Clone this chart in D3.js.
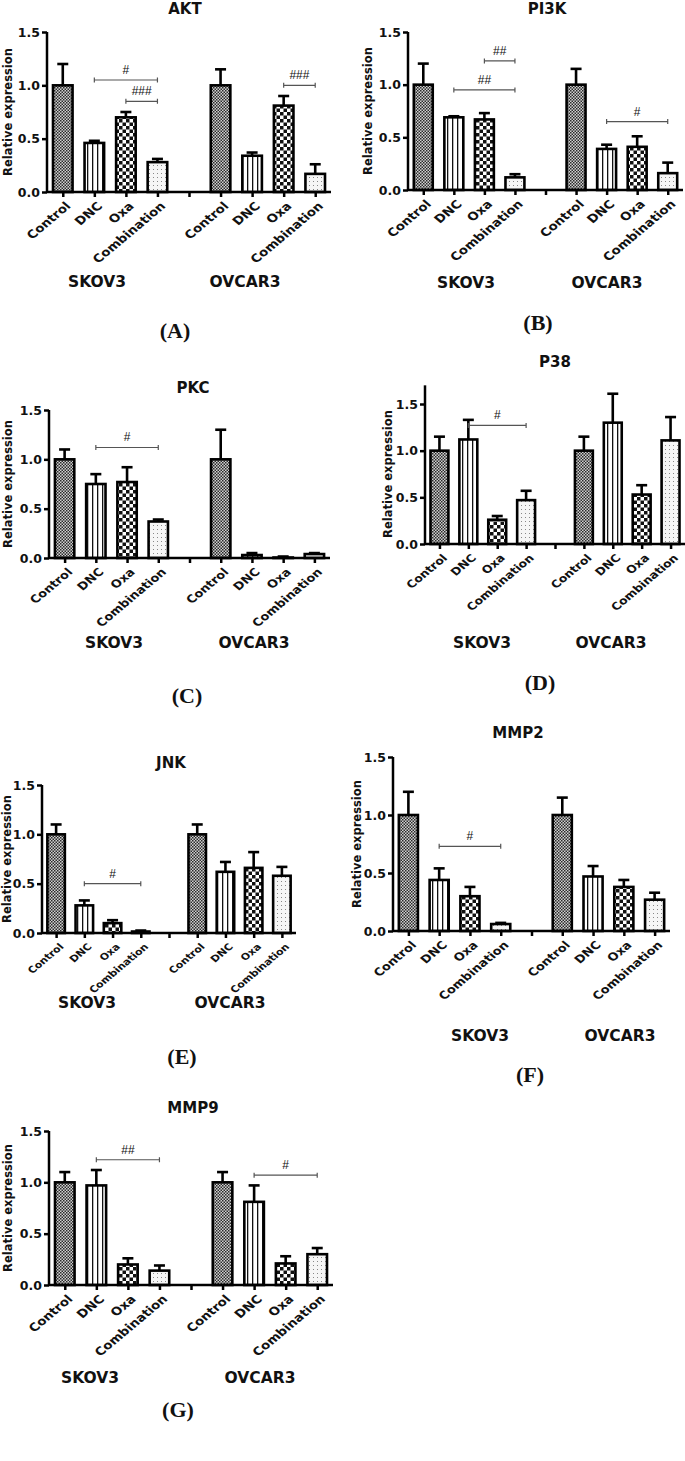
<!DOCTYPE html>
<html>
<head>
<meta charset="utf-8">
<script src="https://cdn.jsdelivr.net/npm/d3@7"></script>
<style>
  body { margin: 0; background: #fff; }
  text { font-family: "DejaVu Sans", sans-serif; font-weight: bold; fill: #111; }
  .letter { font-family: "Liberation Serif", "Times New Roman", serif; font-size: 22px; }
  .sig { font-family: "Liberation Sans", Arial, sans-serif; font-weight: normal; font-size: 12px; }
</style>
</head>
<body>
<div id="chart"></div>
<script>
// data
const treatments = ["Control", "DNC", "Oxa", "Combination"];
const cellLines = ["SKOV3", "OVCAR3"];
const tickValues = [0, 0.5, 1.0, 1.5];

// mean and error (upper bar), SKOV3 then OVCAR3
const aktMean  = [1.00, 0.46, 0.70, 0.28,  1.00, 0.34, 0.81, 0.17];
const aktErr   = [0.20, 0.02, 0.05, 0.03,  0.15, 0.03, 0.09, 0.09];
const pi3kMean = [1.00, 0.69, 0.67, 0.12,  1.00, 0.39, 0.41, 0.16];
const pi3kErr  = [0.20, 0.01, 0.06, 0.03,  0.15, 0.04, 0.10, 0.10];
const pkcMean  = [1.00, 0.75, 0.77, 0.37,  1.00, 0.03, 0.005, 0.04];
const pkcErr   = [0.10, 0.10, 0.15, 0.02,  0.30, 0.02, 0.01, 0.01];
const p38Mean  = [1.00, 1.12, 0.26, 0.47,  1.00, 1.30, 0.53, 1.11];
const p38Err   = [0.15, 0.21, 0.04, 0.10,  0.15, 0.31, 0.10, 0.25];
const jnkMean  = [1.00, 0.28, 0.10, 0.015, 1.00, 0.62, 0.66, 0.58];
const jnkErr   = [0.10, 0.05, 0.03, 0.01,  0.10, 0.10, 0.16, 0.09];
const mmp2Mean = [1.00, 0.44, 0.30, 0.06,  1.00, 0.47, 0.38, 0.27];
const mmp2Err  = [0.20, 0.10, 0.08, 0.01,  0.15, 0.09, 0.06, 0.06];
const mmp9Mean = [1.00, 0.97, 0.20, 0.14,  1.00, 0.81, 0.21, 0.30];
const mmp9Err  = [0.10, 0.15, 0.06, 0.05,  0.10, 0.16, 0.07, 0.06];

// significance brackets: bar index from, to, height, label
const aktSig  = [{a: 1, b: 3, y: 1.05, label: "#"}, {a: 2, b: 3, y: 0.85, label: "###"}, {a: 6, b: 7, y: 1.00, label: "###"}];
const pi3kSig = [{a: 1, b: 3, y: 0.95, label: "##"}, {a: 2, b: 3, y: 1.225, label: "##"}, {a: 5, b: 7, y: 0.65, label: "#"}];
const pkcSig  = [{a: 1, b: 3, y: 1.12, label: "#"}];
const p38Sig  = [{a: 1, b: 3, y: 1.27, label: "#"}];
const jnkSig  = [{a: 1, b: 3, y: 0.50, label: "#"}];
const mmp2Sig = [{a: 1, b: 3, y: 0.73, label: "#"}];
const mmp9Sig = [{a: 1, b: 3, y: 1.22, label: "##"}, {a: 5, b: 7, y: 1.07, label: "#"}];

// layout of each panel (pixels)
const panels = [
  {title: "AKT",  mean: aktMean,  err: aktErr,  sig: aktSig,  letter: "(A)", ax: 47,  ax1: 331, y0: 192,  y15: 32,   ymax: 1.5, titleX: 185, titleY: 14,   ylabX: 8,   grpX: [97, 245],  grpY: 287,  letX: 175, letY: 338,  cat: 13.5},
  {title: "PI3K", mean: pi3kMean, err: pi3kErr, sig: pi3kSig, letter: "(B)", ax: 408, ax1: 683, y0: 190,  y15: 32,   ymax: 1.5, titleX: 547, titleY: 14,   ylabX: 368, grpX: [466, 607], grpY: 288,  letX: 538, letY: 330,  cat: 13.5},
  {title: "PKC",  mean: pkcMean,  err: pkcErr,  sig: pkcSig,  letter: "(C)", ax: 49,  ax1: 330, y0: 558,  y15: 410,  ymax: 1.5, titleX: 193, titleY: 393,  ylabX: 8,   grpX: [114, 254], grpY: 648,  letX: 187, letY: 703,  cat: 13},
  {title: "P38",  mean: p38Mean,  err: p38Err,  sig: p38Sig,  letter: "(D)", ax: 425, ax1: 685, y0: 544,  y15: 404,  ymax: 1.7, titleX: 555, titleY: 367,  ylabX: 388, grpX: [482, 611], grpY: 648,  letX: 540, letY: 690,  cat: 12.5},
  {title: "JNK",  mean: jnkMean,  err: jnkErr,  sig: jnkSig,  letter: "(E)", ax: 42,  ax1: 296, y0: 933,  y15: 785,  ymax: 1.5, titleX: 171, titleY: 768,  ylabX: 7,   grpX: [87, 230],  grpY: 1008, letX: 182, letY: 1064, cat: 11},
  {title: "MMP2", mean: mmp2Mean, err: mmp2Err, sig: mmp2Sig, letter: "(F)", ax: 393, ax1: 670, y0: 931,  y15: 757,  ymax: 1.5, titleX: 518, titleY: 738,  ylabX: 357, grpX: [480, 620], grpY: 1041, letX: 530, letY: 1082, cat: 13},
  {title: "MMP9", mean: mmp9Mean, err: mmp9Err, sig: mmp9Sig, letter: "(G)", ax: 49,  ax1: 333, y0: 1285, y15: 1131, ymax: 1.5, titleX: 193, titleY: 1113, ylabX: 8,   grpX: [90, 260],  grpY: 1383, letX: 178, letY: 1417, cat: 13.5}
];

const width = 685, height = 1461;
const svg = d3.select("#chart").append("svg")
    .attr("width", width)
    .attr("height", height);

// fill patterns for the four treatments
const defs = svg.append("defs");
let p = defs.append("pattern").attr("id", "pat0").attr("patternUnits", "userSpaceOnUse").attr("width", 3).attr("height", 3);
p.append("rect").attr("width", 3).attr("height", 3).attr("fill", "#d0d0d0");
p.append("rect").attr("width", 1.5).attr("height", 1.5).attr("fill", "#2a2a2a");
p.append("rect").attr("x", 1.5).attr("y", 1.5).attr("width", 1.5).attr("height", 1.5).attr("fill", "#2a2a2a");

p = defs.append("pattern").attr("id", "pat1").attr("patternUnits", "userSpaceOnUse").attr("width", 5).attr("height", 5);
p.append("rect").attr("width", 5).attr("height", 5).attr("fill", "#fff");
p.append("rect").attr("x", 2).attr("width", 1.3).attr("height", 5).attr("fill", "#111");

p = defs.append("pattern").attr("id", "pat2").attr("patternUnits", "userSpaceOnUse").attr("width", 7).attr("height", 7);
p.append("rect").attr("width", 7).attr("height", 7).attr("fill", "#fff");
p.append("rect").attr("width", 3.5).attr("height", 3.5).attr("fill", "#111");
p.append("rect").attr("x", 3.5).attr("y", 3.5).attr("width", 3.5).attr("height", 3.5).attr("fill", "#111");

p = defs.append("pattern").attr("id", "pat3").attr("patternUnits", "userSpaceOnUse").attr("width", 4).attr("height", 4);
p.append("rect").attr("width", 4).attr("height", 4).attr("fill", "#f6f6f6");
p.append("rect").attr("x", 1).attr("y", 1).attr("width", 1).attr("height", 1).attr("fill", "#888");

const slotLabels = treatments.concat([""], treatments);

panels.forEach(drawPanel);

function drawPanel(pn) {
    let g = svg.append("g");
    let top = pn.y0 - pn.ymax * (pn.y0 - pn.y15) / 1.5;
    let y = d3.scaleLinear().domain([0, pn.ymax]).range([pn.y0, top]);
    let x = d3.scalePoint().domain(d3.range(9)).range([pn.ax, pn.ax1]).padding(0.5);
    let bw = x.step() * 0.62;

    let data = pn.mean.map((m, i) => ({v: m, e: pn.err[i], t: i % 4, slot: i < 4 ? i : i + 1}));

    // bars
    g.selectAll("rect.bar")
        .data(data)
        .join("rect")
            .attr("class", "bar")
            .attr("x", d => x(d.slot) - bw / 2)
            .attr("y", d => y(d.v))
            .attr("width", bw)
            .attr("height", d => pn.y0 - y(d.v))
            .attr("fill", d => "url(#pat" + d.t + ")")
            .attr("stroke", "#000")
            .attr("stroke-width", 2.6);

    // error bars (upper only)
    g.selectAll("line.err")
        .data(data)
        .join("line")
            .attr("class", "err")
            .attr("x1", d => x(d.slot)).attr("x2", d => x(d.slot))
            .attr("y1", d => y(d.v)).attr("y2", d => y(d.v + d.e))
            .attr("stroke", "#000").attr("stroke-width", 2.6);
    g.selectAll("line.cap")
        .data(data)
        .join("line")
            .attr("class", "cap")
            .attr("x1", d => x(d.slot) - 5.5).attr("x2", d => x(d.slot) + 5.5)
            .attr("y1", d => y(d.v + d.e)).attr("y2", d => y(d.v + d.e))
            .attr("stroke", "#000").attr("stroke-width", 2.6);

    // axes
    let yAxis = d3.axisLeft(y).tickValues(tickValues).tickFormat(d3.format(".1f")).tickSize(5).tickPadding(2);
    let gy = g.append("g").attr("transform", "translate(" + pn.ax + ",0)").call(yAxis);
    let xAxis = d3.axisBottom(x).tickFormat(i => slotLabels[i]).tickSize(5).tickSizeOuter(0);
    let gx = g.append("g").attr("transform", "translate(0," + pn.y0 + ")").call(xAxis);
    [gx, gy].forEach(a => {
        a.selectAll("path, line").attr("stroke", "#000").attr("stroke-width", 2.5);
        a.selectAll("text").style("font-size", "12.5px").attr("fill", "#111");
    });
    gx.select(".domain").attr("d", "M" + pn.ax + ",0H" + pn.ax1);
    gy.select(".domain").attr("d", "M0," + pn.y0 + "V" + top);
    gx.selectAll("text")
        .style("font-size", pn.cat + "px")
        .attr("text-anchor", "end")
        .attr("x", 0).attr("y", 0).attr("dy", "0.35em")
        .attr("transform", "translate(5,12) scale(1,0.84) rotate(-45)");

    // significance brackets
    pn.sig.forEach(s => {
        let xa = x(data[s.a].slot), xb = x(data[s.b].slot), yy = y(s.y);
        g.append("path")
            .attr("d", "M" + xa + "," + (yy - 2.5) + "V" + (yy + 2.5) + "M" + xa + "," + yy + "H" + xb + "M" + xb + "," + (yy - 2.5) + "V" + (yy + 2.5))
            .attr("stroke", "#555").attr("stroke-width", 1.2).attr("fill", "none");
        g.append("text").attr("class", "sig")
            .attr("x", (xa + xb) / 2).attr("y", yy - 6)
            .attr("text-anchor", "middle")
            .text(s.label);
    });

    // texts
    g.append("text").attr("x", pn.titleX).attr("y", pn.titleY)
        .attr("text-anchor", "middle").style("font-size", "15px").text(pn.title);
    g.append("text")
        .attr("transform", "translate(" + pn.ylabX + "," + ((pn.y0 + pn.y15) / 2) + ") rotate(-90)")
        .attr("text-anchor", "middle").attr("dy", "0.35em")
        .style("font-size", "11.5px").text("Relative expression");
    cellLines.forEach((c, i) => {
        g.append("text").attr("x", pn.grpX[i]).attr("y", pn.grpY)
            .attr("text-anchor", "middle").style("font-size", "15.5px").text(c);
    });
    g.append("text").attr("class", "letter")
        .attr("x", pn.letX).attr("y", pn.letY)
        .attr("text-anchor", "middle").text(pn.letter);
}
</script>
</body>
</html>
